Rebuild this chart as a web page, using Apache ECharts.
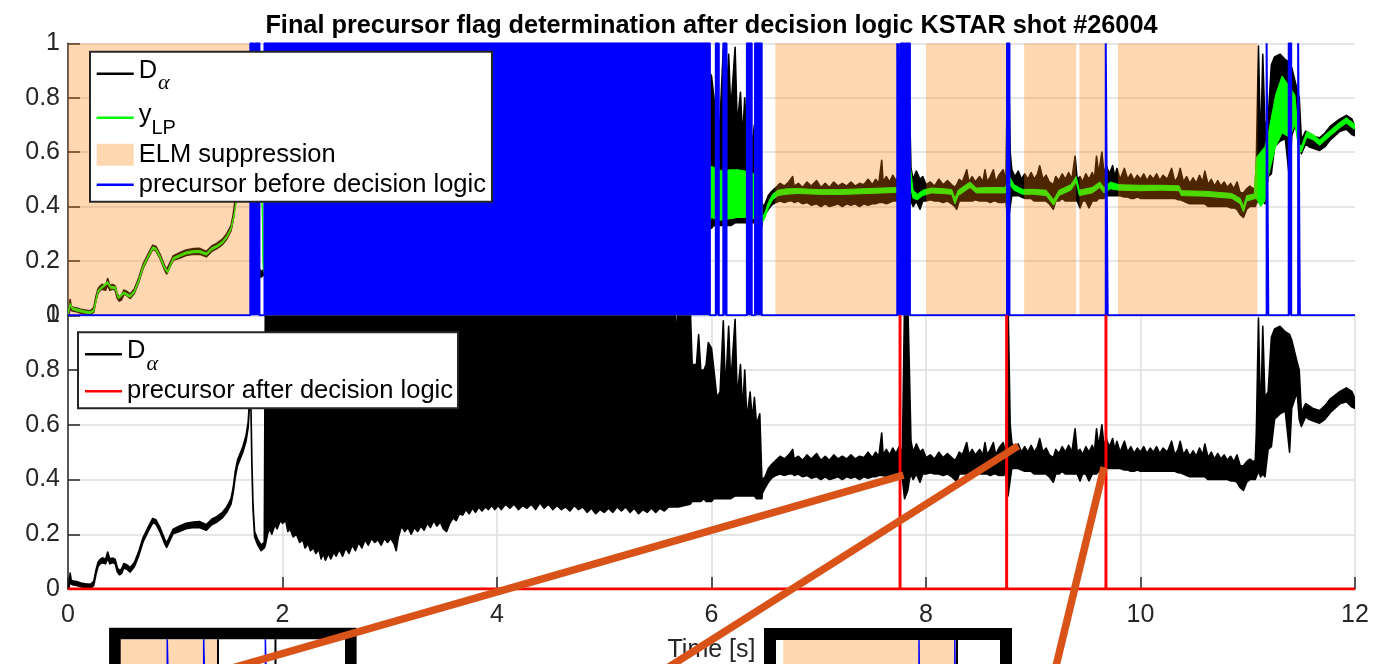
<!DOCTYPE html>
<html>
<head>
<meta charset="utf-8">
<script src="https://cdn.jsdelivr.net/npm/echarts@6.0.0/dist/echarts.min.js"></script>
<style>
html, body { margin: 0; padding: 0; background: #ffffff; }
#chart { width: 1383px; height: 664px; }
</style>
</head>
<body>
<div id="chart"></div>
<script>
// ------------------------------------------------------------------
// KSTAR shot #26004 : D-alpha signal, low-pass filtered signal,
// ELM-suppression windows and precursor flags (before / after logic)
// ------------------------------------------------------------------

const TITLE = 'Final precursor flag determination after decision logic KSTAR shot #26004';
const X_NAME = 'Time [s]';
const TIME_RANGE = [0, 12];
const TIME_STEP = 2;
const VALUE_RANGE = [0, 1];
const VALUE_STEP = 0.2;

// D-alpha, rows of [time s, lower envelope, upper envelope]
const dalphaRise = [
  [0, 0.000, 0.010], [0.01, 0.002, 0.018], [0.02, 0.040, 0.058], [0.03, 0.018, 0.032], [0.05, 0.015, 0.029],
  [0.08, 0.013, 0.027], [0.12, 0.008, 0.022], [0.16, 0.005, 0.019], [0.21, 0.003, 0.017], [0.24, 0.012, 0.028],
  [0.26, 0.052, 0.068], [0.28, 0.082, 0.098], [0.30, 0.092, 0.108], [0.32, 0.096, 0.114], [0.35, 0.092, 0.108],
  [0.37, 0.112, 0.135], [0.39, 0.092, 0.110], [0.42, 0.097, 0.113], [0.44, 0.092, 0.108], [0.46, 0.062, 0.078],
  [0.48, 0.052, 0.068], [0.50, 0.057, 0.073], [0.52, 0.077, 0.093], [0.55, 0.072, 0.088], [0.58, 0.062, 0.078],
  [0.62, 0.082, 0.098], [0.66, 0.122, 0.138], [0.70, 0.172, 0.188], [0.75, 0.212, 0.228], [0.79, 0.242, 0.258],
  [0.82, 0.237, 0.253], [0.86, 0.207, 0.223], [0.90, 0.167, 0.183], [0.92, 0.152, 0.168], [0.95, 0.177, 0.193],
  [0.98, 0.202, 0.218], [1.04, 0.210, 0.230], [1.10, 0.220, 0.240], [1.17, 0.225, 0.245], [1.23, 0.224, 0.246],
  [1.29, 0.215, 0.235], [1.34, 0.235, 0.255], [1.39, 0.245, 0.265], [1.44, 0.260, 0.280], [1.48, 0.280, 0.300],
  [1.52, 0.310, 0.330], [1.54, 0.350, 0.370], [1.56, 0.410, 0.430], [1.58, 0.450, 0.470], [1.60, 0.470, 0.490],
  [1.63, 0.500, 0.520], [1.66, 0.540, 0.560], [1.68, 0.590, 0.610], [1.695, 0.690, 0.710], [1.705, 0.670, 0.690],
  [1.715, 0.440, 0.460], [1.725, 0.290, 0.310], [1.74, 0.190, 0.210], [1.77, 0.160, 0.180], [1.80, 0.140, 0.160],
  [1.83, 0.150, 0.170]
];
const dalphaElmy = [
  [1.84, 0.16, 1.05], [1.86, 0.20, 1.05], [1.88, 0.22, 1.05], [1.90, 0.20, 1.05], [1.93, 0.235, 1.05],
  [1.95, 0.22, 1.05], [1.98, 0.25, 1.05], [2.00, 0.24, 1.05], [2.03, 0.25, 1.05], [2.05, 0.21, 1.05],
  [2.07, 0.22, 1.05], [2.10, 0.19, 1.05], [2.13, 0.20, 1.05], [2.16, 0.17, 1.05], [2.19, 0.18, 1.05],
  [2.21, 0.15, 1.05], [2.24, 0.165, 1.05], [2.26, 0.14, 1.05], [2.29, 0.15, 1.05], [2.31, 0.13, 1.05],
  [2.34, 0.145, 1.05], [2.36, 0.11, 1.05], [2.38, 0.13, 1.05], [2.40, 0.105, 1.05], [2.43, 0.13, 1.05],
  [2.45, 0.11, 1.05], [2.48, 0.135, 1.05], [2.50, 0.12, 1.05], [2.53, 0.145, 1.05], [2.56, 0.12, 1.05],
  [2.59, 0.15, 1.05], [2.62, 0.13, 1.05], [2.65, 0.16, 1.05], [2.68, 0.14, 1.05], [2.71, 0.17, 1.05],
  [2.74, 0.15, 1.05], [2.77, 0.18, 1.05], [2.80, 0.16, 1.05], [2.83, 0.185, 1.05], [2.86, 0.17, 1.05],
  [2.89, 0.18, 1.05], [2.92, 0.16, 1.05], [2.95, 0.185, 1.05], [2.98, 0.17, 1.05], [3.01, 0.185, 1.05],
  [3.04, 0.165, 1.05], [3.06, 0.14, 1.05], [3.08, 0.19, 1.05], [3.11, 0.23, 1.05], [3.14, 0.21, 1.05],
  [3.17, 0.225, 1.05], [3.20, 0.20, 1.05], [3.23, 0.225, 1.05], [3.26, 0.21, 1.05], [3.29, 0.23, 1.05],
  [3.32, 0.215, 1.05], [3.35, 0.24, 1.05], [3.38, 0.225, 1.05], [3.41, 0.25, 1.05], [3.44, 0.23, 1.05],
  [3.47, 0.245, 1.05], [3.50, 0.22, 1.05], [3.53, 0.21, 1.05], [3.56, 0.24, 1.05], [3.59, 0.26, 1.05],
  [3.62, 0.25, 1.05], [3.65, 0.275, 1.05], [3.68, 0.27, 1.05], [3.71, 0.29, 1.05], [3.74, 0.275, 1.05],
  [3.77, 0.295, 1.05], [3.80, 0.28, 1.05], [3.83, 0.30, 1.05], [3.86, 0.285, 1.05], [3.89, 0.30, 1.05],
  [3.92, 0.29, 1.05], [3.95, 0.305, 1.05], [3.98, 0.29, 1.05], [4.01, 0.305, 1.05], [4.04, 0.29, 1.05],
  [4.08, 0.31, 1.05], [4.12, 0.295, 1.05], [4.16, 0.31, 1.05], [4.20, 0.29, 1.05], [4.24, 0.305, 1.05],
  [4.28, 0.295, 1.05], [4.32, 0.31, 1.05], [4.36, 0.29, 1.05], [4.40, 0.315, 1.05], [4.44, 0.295, 1.05],
  [4.48, 0.31, 1.05], [4.52, 0.29, 1.05], [4.56, 0.305, 1.05], [4.60, 0.29, 1.05], [4.64, 0.30, 1.05],
  [4.68, 0.285, 1.05], [4.72, 0.305, 1.05], [4.76, 0.29, 1.05], [4.80, 0.30, 1.05], [4.84, 0.28, 1.05],
  [4.88, 0.295, 1.05], [4.92, 0.275, 1.05], [4.96, 0.29, 1.05], [5.00, 0.28, 1.05], [5.04, 0.295, 1.05],
  [5.08, 0.28, 1.05], [5.12, 0.30, 1.05], [5.16, 0.285, 1.05], [5.20, 0.30, 1.05], [5.24, 0.28, 1.05],
  [5.28, 0.295, 1.05], [5.32, 0.275, 1.05], [5.36, 0.29, 1.05], [5.40, 0.28, 1.05], [5.44, 0.295, 1.05],
  [5.48, 0.28, 1.05], [5.52, 0.295, 1.05], [5.56, 0.285, 1.05], [5.60, 0.30, 1.05], [5.66, 0.30, 1.05],
  [5.67, 0.30, 0.90], [5.69, 0.30, 1.05], [5.80, 0.31, 1.05], [5.82, 0.32, 0.82], [5.86, 0.32, 0.82],
  [5.88, 0.32, 0.93], [5.90, 0.32, 0.80], [5.93, 0.33, 0.80], [5.95, 0.32, 0.82], [5.97, 0.32, 0.90],
  [6.00, 0.32, 0.88], [6.02, 0.33, 0.81], [6.05, 0.33, 0.70], [6.08, 0.33, 0.72], [6.11, 0.33, 0.98],
  [6.13, 0.33, 0.72], [6.16, 0.33, 0.96], [6.18, 0.33, 0.75], [6.22, 0.34, 0.985], [6.24, 0.34, 0.70],
  [6.27, 0.34, 0.82], [6.29, 0.34, 0.65], [6.31, 0.34, 0.80], [6.33, 0.34, 0.62], [6.36, 0.34, 0.72],
  [6.38, 0.34, 0.62], [6.40, 0.34, 0.70], [6.42, 0.33, 0.60], [6.45, 0.33, 0.64], [6.47, 0.33, 0.40]
];
const dalphaHmode = [
  [6.475, 0.35, 0.40], [6.50, 0.37, 0.41], [6.53, 0.39, 0.44], [6.56, 0.405, 0.455], [6.60, 0.415, 0.47],
  [6.64, 0.42, 0.485], [6.68, 0.415, 0.475], [6.72, 0.42, 0.49], [6.757, 0.42, 0.51], [6.77, 0.415, 0.475],
  [6.81, 0.42, 0.485], [6.85, 0.41, 0.47], [6.89, 0.415, 0.49], [6.93, 0.405, 0.475], [6.98, 0.41, 0.495],
  [7.02, 0.40, 0.47], [7.06, 0.41, 0.485], [7.10, 0.40, 0.47], [7.14, 0.405, 0.49], [7.18, 0.41, 0.475],
  [7.22, 0.40, 0.485], [7.26, 0.41, 0.475], [7.30, 0.405, 0.49], [7.34, 0.41, 0.475], [7.38, 0.40, 0.485],
  [7.42, 0.41, 0.48], [7.46, 0.405, 0.50], [7.50, 0.41, 0.48], [7.53, 0.41, 0.50], [7.56, 0.415, 0.485],
  [7.587, 0.415, 0.57], [7.60, 0.415, 0.49], [7.63, 0.41, 0.51], [7.66, 0.415, 0.49], [7.69, 0.42, 0.515],
  [7.72, 0.42, 0.495], [7.75, 0.42, 0.52], [7.78, 0.40, 0.50], [7.80, 0.33, 1.05], [7.83, 0.36, 1.05],
  [7.845, 0.40, 0.80], [7.86, 0.42, 0.54], [7.88, 0.40, 0.50], [7.91, 0.42, 0.53], [7.944, 0.39, 0.50],
  [7.97, 0.42, 0.51], [8.00, 0.42, 0.48], [8.04, 0.425, 0.49], [8.08, 0.42, 0.475], [8.12, 0.42, 0.50],
  [8.16, 0.415, 0.48], [8.20, 0.42, 0.495], [8.24, 0.41, 0.48], [8.27, 0.40, 0.47], [8.286, 0.39, 0.48],
  [8.31, 0.42, 0.50], [8.34, 0.42, 0.49], [8.38, 0.42, 0.535], [8.40, 0.42, 0.49], [8.43, 0.42, 0.51],
  [8.46, 0.425, 0.49], [8.50, 0.42, 0.51], [8.53, 0.42, 0.49], [8.55, 0.42, 0.535], [8.57, 0.42, 0.49],
  [8.60, 0.415, 0.51], [8.628, 0.42, 0.535], [8.65, 0.42, 0.49], [8.68, 0.415, 0.515], [8.72, 0.415, 0.535],
  [8.745, 0.42, 0.49], [8.765, 0.34, 1.05], [8.785, 0.40, 0.60], [8.80, 0.44, 0.535], [8.83, 0.44, 0.51],
  [8.86, 0.44, 0.53], [8.89, 0.435, 0.50], [8.92, 0.43, 0.52], [8.95, 0.43, 0.50], [8.98, 0.43, 0.525],
  [9.01, 0.42, 0.50], [9.04, 0.42, 0.52], [9.06, 0.42, 0.55], [9.09, 0.42, 0.50], [9.12, 0.42, 0.515],
  [9.15, 0.41, 0.49], [9.187, 0.39, 0.48], [9.21, 0.42, 0.51], [9.24, 0.42, 0.495], [9.27, 0.43, 0.52],
  [9.30, 0.42, 0.50], [9.33, 0.42, 0.525], [9.36, 0.42, 0.50], [9.39, 0.42, 0.585], [9.41, 0.42, 0.50],
  [9.436, 0.395, 0.51], [9.46, 0.42, 0.49], [9.49, 0.42, 0.52], [9.52, 0.395, 0.50], [9.55, 0.42, 0.525],
  [9.57, 0.42, 0.50], [9.59, 0.42, 0.585], [9.61, 0.43, 0.52], [9.64, 0.43, 0.60], [9.66, 0.43, 0.52],
  [9.68, 0.44, 0.55], [9.71, 0.44, 0.52], [9.74, 0.44, 0.55], [9.76, 0.44, 0.51], [9.78, 0.44, 0.54],
  [9.81, 0.44, 0.50], [9.85, 0.435, 0.54], [9.88, 0.435, 0.50], [9.91, 0.43, 0.52], [9.94, 0.43, 0.495],
  [9.97, 0.435, 0.515], [10.00, 0.43, 0.50], [10.03, 0.43, 0.52], [10.06, 0.43, 0.495], [10.09, 0.43, 0.515],
  [10.12, 0.43, 0.50], [10.15, 0.43, 0.52], [10.18, 0.43, 0.495], [10.21, 0.43, 0.515], [10.25, 0.43, 0.50],
  [10.29, 0.43, 0.54], [10.32, 0.43, 0.49], [10.35, 0.425, 0.51], [10.37, 0.425, 0.54], [10.40, 0.42, 0.49],
  [10.43, 0.415, 0.51], [10.46, 0.41, 0.485], [10.49, 0.41, 0.505], [10.52, 0.41, 0.485], [10.55, 0.41, 0.515],
  [10.58, 0.41, 0.49], [10.60, 0.41, 0.53], [10.63, 0.40, 0.48], [10.66, 0.40, 0.50], [10.69, 0.40, 0.475],
  [10.72, 0.40, 0.495], [10.75, 0.40, 0.475], [10.78, 0.40, 0.49], [10.81, 0.40, 0.47], [10.84, 0.395, 0.485],
  [10.87, 0.395, 0.465], [10.90, 0.39, 0.49], [10.93, 0.37, 0.45], [10.96, 0.36, 0.45], [10.99, 0.39, 0.465],
  [11.02, 0.40, 0.475], [11.05, 0.40, 0.465], [11.07, 0.40, 0.47], [11.08, 0.41, 0.57], [11.10, 0.43, 0.99],
  [11.12, 0.41, 0.60], [11.14, 0.42, 0.96], [11.16, 0.41, 0.70], [11.19, 0.51, 0.72], [11.22, 0.52, 0.92],
  [11.25, 0.62, 0.95], [11.30, 0.64, 0.96], [11.35, 0.65, 0.94], [11.39, 0.50, 0.93], [11.41, 0.66, 0.91],
  [11.46, 0.72, 0.83], [11.48, 0.62, 0.80], [11.50, 0.594, 0.645], [11.54, 0.63, 0.677], [11.57, 0.62, 0.67],
  [11.61, 0.614, 0.659], [11.67, 0.606, 0.652], [11.72, 0.62, 0.67], [11.77, 0.645, 0.695], [11.86, 0.677, 0.722],
  [11.92, 0.684, 0.735], [11.97, 0.665, 0.722], [12.00, 0.66, 0.695]
];

// Low-pass filtered signal y_LP, rows of [time s, lower, upper]
const ylpRise = [
  [0, 0.000, 0.008], [0.02, 0.036, 0.044], [0.04, 0.021, 0.029], [0.08, 0.016, 0.024], [0.16, 0.008, 0.016],
  [0.21, 0.006, 0.014], [0.24, 0.014, 0.022], [0.28, 0.084, 0.092], [0.32, 0.100, 0.108], [0.37, 0.116, 0.124],
  [0.40, 0.098, 0.106], [0.44, 0.098, 0.106], [0.47, 0.061, 0.069], [0.52, 0.078, 0.086], [0.58, 0.066, 0.074],
  [0.62, 0.084, 0.092], [0.66, 0.124, 0.132], [0.70, 0.174, 0.182], [0.75, 0.214, 0.222], [0.79, 0.244, 0.252],
  [0.82, 0.239, 0.247], [0.86, 0.210, 0.218], [0.90, 0.170, 0.178], [0.93, 0.156, 0.164], [0.98, 0.204, 0.212],
  [1.04, 0.215, 0.223], [1.10, 0.225, 0.233], [1.17, 0.230, 0.238], [1.23, 0.230, 0.238], [1.29, 0.221, 0.229],
  [1.34, 0.240, 0.248], [1.39, 0.250, 0.258], [1.44, 0.264, 0.272], [1.48, 0.284, 0.292], [1.52, 0.314, 0.322],
  [1.55, 0.366, 0.374], [1.58, 0.446, 0.454], [1.62, 0.486, 0.494], [1.66, 0.536, 0.544], [1.70, 0.596, 0.604],
  [1.74, 0.500, 0.510], [1.78, 0.450, 0.460], [1.81, 0.420, 0.430], [1.82, 0.170, 0.180], [1.83, 0.155, 0.165]
];
const ylpElmy = [
  [1.86, 0.20, 0.40], [2.50, 0.22, 0.45], [3.50, 0.28, 0.50], [4.50, 0.31, 0.52], [5.50, 0.32, 0.53],
  [5.98, 0.34, 0.55], [6.00, 0.36, 0.547], [6.05, 0.35, 0.54], [6.10, 0.35, 0.53], [6.17, 0.355, 0.535],
  [6.25, 0.36, 0.535], [6.32, 0.36, 0.53], [6.40, 0.355, 0.52], [6.46, 0.35, 0.51]
];
const ylpHmode = [
  [6.475, 0.34, 0.36], [6.50, 0.36, 0.38], [6.53, 0.395, 0.415], [6.57, 0.425, 0.445], [6.62, 0.44, 0.46],
  [6.70, 0.445, 0.465], [6.80, 0.448, 0.466], [7.00, 0.445, 0.462], [7.20, 0.444, 0.462], [7.40, 0.447, 0.465],
  [7.60, 0.45, 0.468], [7.74, 0.452, 0.47], [7.78, 0.45, 0.50], [7.82, 0.47, 0.60], [7.85, 0.48, 0.56],
  [7.88, 0.43, 0.46], [7.92, 0.425, 0.445], [7.97, 0.44, 0.46], [8.05, 0.45, 0.468], [8.15, 0.448, 0.466],
  [8.24, 0.445, 0.462], [8.27, 0.41, 0.43], [8.30, 0.44, 0.46], [8.41, 0.47, 0.49], [8.47, 0.45, 0.468],
  [8.60, 0.45, 0.47], [8.74, 0.45, 0.47], [8.78, 0.48, 0.51], [8.82, 0.46, 0.48], [8.90, 0.445, 0.463],
  [9.00, 0.445, 0.463], [9.12, 0.44, 0.46], [9.19, 0.405, 0.425], [9.24, 0.44, 0.46], [9.35, 0.46, 0.48],
  [9.40, 0.49, 0.51], [9.43, 0.44, 0.46], [9.55, 0.45, 0.47], [9.62, 0.47, 0.49], [9.66, 0.45, 0.47],
  [9.72, 0.465, 0.49], [9.80, 0.46, 0.48], [10.00, 0.458, 0.478], [10.20, 0.46, 0.478], [10.36, 0.458, 0.476],
  [10.38, 0.44, 0.458], [10.60, 0.438, 0.456], [10.85, 0.43, 0.448], [10.93, 0.41, 0.43], [10.96, 0.38, 0.40],
  [10.99, 0.42, 0.44], [11.06, 0.428, 0.446], [11.08, 0.43, 0.58], [11.12, 0.40, 0.60], [11.16, 0.42, 0.62],
  [11.19, 0.51, 0.665], [11.26, 0.62, 0.81], [11.32, 0.67, 0.88], [11.39, 0.655, 0.84], [11.44, 0.70, 0.81],
  [11.48, 0.60, 0.63], [11.50, 0.60, 0.62], [11.55, 0.655, 0.675], [11.61, 0.645, 0.665], [11.67, 0.625, 0.645],
  [11.77, 0.66, 0.68], [11.86, 0.69, 0.71], [11.92, 0.706, 0.726], [11.99, 0.685, 0.705], [12.00, 0.685, 0.705]
];

// ELM suppression windows [start s, end s]
const elmWindows = [[0, 1.70], [6.595, 7.75], [8.0, 8.75], [8.915, 9.40], [9.43, 9.67], [9.79, 11.09]];

// precursor flag = 1 inside these intervals (before decision logic)
const precursorBefore = [
  [1.700, 1.730], [1.745, 1.785], [1.832, 5.985], [6.040, 6.068], [6.110, 6.140],
  [6.330, 6.375], [6.406, 6.468], [7.732, 7.734], [7.745, 7.747], [7.765, 7.800],
  [7.812, 7.850], [8.755, 8.778], [9.676, 9.694], [11.176, 11.192], [11.382, 11.405],
  [11.470, 11.486]
];
// precursor flag times that survive the decision logic
const precursorAfter = [7.758, 8.752, 9.678];

// magnified views below the time axis
const zoomAWindow = [7.715, 7.795];
const zoomAElm = [[7.70, 7.75]];
const zoomAFlags = [[7.7316, 7.7322], [7.7446, 7.7452], [7.7666, 7.7672]];
const zoomADalpha = [[7.7497, 0.45, 1.05], [7.7702, 0.40, 1.05]];
const zoomBWindow = [9.42, 9.7325];
const zoomBElm = [[9.43, 9.67]];
const zoomBFlags = [[9.6195, 9.6205], [9.6695, 9.6705]];
const zoomBDalpha = [[9.6725, 0.40, 1.05]];

// highlighted precursor events in the lower panel [time s, D-alpha]
const calloutTimes = [7.79, 8.86, 9.66];
const calloutValues = [0.416, 0.523, 0.445];

// ------------------------------------------------------------------
const FONT = '"Liberation Sans", Arial, Helvetica, sans-serif';
const AXIS_GREY = '#262626';
const GRID_GREY = '#dedede';
const C_BLACK = '#000000';
const C_GREEN = '#00ff00';
const C_ELM = 'rgba(255,127,0,0.3)';
const C_BLUE = '#0000ff';
const C_RED = '#ff0000';
const C_CALLOUT = '#d95319';

const dalphaRows = dalphaRise.concat(dalphaElmy, dalphaHmode);
const ylpRows = ylpRise.concat(ylpElmy, ylpHmode);

// closed band between lower and upper envelope
function bandRenderer(rows, strokeWidth) {
  return function (params, api) {
    const pts = [];
    for (let i = 0; i < rows.length; i++) pts.push(api.coord([rows[i][0], rows[i][2]]));
    for (let i = rows.length - 1; i >= 0; i--) pts.push(api.coord([rows[i][0], rows[i][1]]));
    const c = api.visual('color');
    return {
      type: 'polygon',
      shape: { points: pts },
      style: { fill: c, stroke: c, lineWidth: strokeWidth, lineJoin: 'round' }
    };
  };
}
// full-height shaded window
function windowRenderer(params, api) {
  const a = api.coord([api.value(0), VALUE_RANGE[1]]);
  const b = api.coord([api.value(1), VALUE_RANGE[0]]);
  return {
    type: 'rect',
    shape: { x: a[0], y: a[1], width: b[0] - a[0], height: b[1] - a[1] },
    style: { fill: api.visual('color') }
  };
}
// vertical trace segment [t, lo, hi]
function spikeRenderer(params, api) {
  const a = api.coord([api.value(0), api.value(1)]);
  const b = api.coord([api.value(0), api.value(2)]);
  return {
    type: 'line',
    shape: { x1: a[0], y1: a[1], x2: b[0], y2: b[1] },
    style: { stroke: api.visual('color'), lineWidth: 2 }
  };
}
// 0/1 flag signal from "on" intervals
function flagSteps(intervals, t0, t1) {
  const pts = [[t0, 0]];
  intervals.forEach(function (iv) {
    pts.push([iv[0], 0], [iv[0], 1], [iv[1], 1], [iv[1], 0]);
  });
  pts.push([t1, 0]);
  return pts;
}
// 0/1 flag signal made of single-sample pulses
function flagPulses(times, t0, t1) {
  const pts = [[t0, 0]];
  times.forEach(function (t) { pts.push([t, 0], [t, 1], [t, 0]); });
  pts.push([t1, 0]);
  return pts;
}

const chart = echarts.init(document.getElementById('chart'), null, { renderer: 'canvas' });

const PLOT_LEFT = 68, PLOT_WIDTH = 1287;
const TOP_Y = 43.3, MID_Y = 315.3, BOTTOM_Y = 589;
const ZOOM_A = { left: 120.7, top: 639.3, width: 224.3, height: 300, border: 11.6 };
const ZOOM_B = { left: 776, top: 640, width: 224, height: 300, border: 12 };

function valueAxis(gridIndex) {
  return {
    gridIndex: gridIndex, type: 'value', min: VALUE_RANGE[0], max: VALUE_RANGE[1], interval: VALUE_STEP,
    axisLine: { show: true, lineStyle: { color: AXIS_GREY, width: 1.5 } },
    axisTick: { show: true, inside: true, length: 12, lineStyle: { color: AXIS_GREY, width: 1.5 } },
    axisLabel: { show: true, margin: 8, fontSize: 25, color: AXIS_GREY, fontFamily: FONT },
    splitLine: { show: true, lineStyle: { color: GRID_GREY, width: 1.5 } }
  };
}
function hiddenAxis(gridIndex, range) {
  return { gridIndex: gridIndex, type: 'value', min: range[0], max: range[1], show: false, splitLine: { show: false } };
}

// legend text: every token gets an explicit box so rows have fixed heights;
// subscripts sit lower inside their box, like TeX subscripts
const SUB_ROW = 44, PLAIN_ROW = 30;
const richLegend = {
  m: { fontFamily: FONT, fontSize: 25.5, height: 30, lineHeight: SUB_ROW, padding: [4, 0, 10, 0],
       verticalAlign: 'top', color: '#000' },
  a: { fontFamily: '"Liberation Serif", "DejaVu Serif", serif', fontStyle: 'italic', fontSize: 22, height: 22,
       lineHeight: SUB_ROW, padding: [21, 0, 1, 1], verticalAlign: 'top', color: '#000' },
  s: { fontFamily: FONT, fontSize: 20, height: 20, lineHeight: SUB_ROW, padding: [23, 0, 1, 0],
       verticalAlign: 'top', color: '#000' },
  p: { fontFamily: FONT, fontSize: 25.5, height: PLAIN_ROW, lineHeight: PLAIN_ROW, verticalAlign: 'top', color: '#000' }
};
function legendText(name) {
  if (name === 'D_α') return '{m|D}{a|α}';
  if (name === 'y_LP') return '{m|y}{s|LP}';
  return '{p|' + name + '}';
}
const LINE_ICON = 'path://M0,0H37V2.4H0Z';
const legendBase = {
  orient: 'vertical', itemWidth: 37, itemHeight: 22, itemGap: 0,
  backgroundColor: '#ffffff', borderColor: AXIS_GREY, borderWidth: 2, borderRadius: 0,
  selectedMode: false, z: 10, formatter: legendText,
  textStyle: { fontFamily: FONT, fontSize: 25.5, color: '#000', rich: richLegend }
};

const option = {
  animation: false,
  backgroundColor: '#ffffff',
  title: {
    text: TITLE, left: PLOT_LEFT + PLOT_WIDTH / 2, textAlign: 'center', top: 14, padding: 0,
    textStyle: { fontFamily: FONT, fontSize: 25.3, fontWeight: 'bold', color: '#000' }
  },
  legend: [
    Object.assign({}, legendBase, {
      left: 90, top: 51.7, padding: [0, 6, 2, 6.7],
      data: [
        { name: 'D_α', icon: LINE_ICON, itemStyle: { color: C_BLACK } },
        { name: 'y_LP', icon: LINE_ICON, itemStyle: { color: C_GREEN } },
        { name: 'ELM suppression', icon: 'rect', itemStyle: { color: C_ELM } },
        { name: 'precursor before decision logic', icon: LINE_ICON, itemStyle: { color: C_BLUE } }
      ]
    }),
    Object.assign({}, legendBase, {
      left: 78, top: 332.3, padding: [0, 5, 2, 7],
      data: [
        { name: 'D_α', icon: LINE_ICON, itemStyle: { color: C_BLACK } },
        { name: 'precursor after decision logic', icon: LINE_ICON, itemStyle: { color: C_RED } }
      ]
    })
  ],
  grid: [
    { left: PLOT_LEFT, top: TOP_Y, width: PLOT_WIDTH, height: MID_Y - TOP_Y },
    { left: PLOT_LEFT, top: MID_Y, width: PLOT_WIDTH, height: BOTTOM_Y - MID_Y },
    { left: ZOOM_A.left, top: ZOOM_A.top, width: ZOOM_A.width, height: ZOOM_A.height },
    { left: ZOOM_B.left, top: ZOOM_B.top, width: ZOOM_B.width, height: ZOOM_B.height }
  ],
  xAxis: [
    { gridIndex: 0, type: 'value', min: TIME_RANGE[0], max: TIME_RANGE[1], interval: TIME_STEP,
      axisLine: { show: false }, axisTick: { show: false }, axisLabel: { show: false }, splitLine: { show: false } },
    { gridIndex: 1, type: 'value', min: TIME_RANGE[0], max: TIME_RANGE[1], interval: TIME_STEP,
      name: X_NAME, nameLocation: 'middle', nameGap: 49,
      nameTextStyle: { fontFamily: FONT, fontSize: 25, color: AXIS_GREY },
      axisLine: { show: true, lineStyle: { color: AXIS_GREY, width: 1.5 } },
      axisTick: { show: true, inside: true, length: 12, lineStyle: { color: AXIS_GREY, width: 1.5 } },
      axisLabel: { show: true, margin: 14, fontSize: 25, color: AXIS_GREY, fontFamily: FONT },
      splitLine: { show: true, lineStyle: { color: GRID_GREY, width: 1.5 } } },
    hiddenAxis(2, zoomAWindow),
    hiddenAxis(3, zoomBWindow)
  ],
  yAxis: [
    valueAxis(0),
    valueAxis(1),
    hiddenAxis(2, VALUE_RANGE),
    hiddenAxis(3, VALUE_RANGE)
  ],
  series: [
    // upper panel
    { type: 'custom', name: 'D_α', xAxisIndex: 0, yAxisIndex: 0, z: 2, clip: true, silent: true,
      itemStyle: { color: C_BLACK }, data: [[0, 0]], renderItem: bandRenderer(dalphaRows, 1.6) },
    { type: 'custom', name: 'y_LP', xAxisIndex: 0, yAxisIndex: 0, z: 3, clip: true, silent: true,
      itemStyle: { color: C_GREEN }, data: [[0, 0]], renderItem: bandRenderer(ylpRows, 1) },
    { type: 'custom', name: 'ELM suppression', xAxisIndex: 0, yAxisIndex: 0, z: 4, clip: true, silent: true,
      itemStyle: { color: C_ELM }, data: elmWindows, renderItem: windowRenderer },
    { type: 'line', name: 'precursor before decision logic', xAxisIndex: 0, yAxisIndex: 0, z: 5, clip: true,
      silent: true, symbol: 'none', itemStyle: { color: C_BLUE },
      lineStyle: { color: C_BLUE, width: 2 }, areaStyle: { color: C_BLUE, opacity: 1 },
      data: flagSteps(precursorBefore, TIME_RANGE[0], TIME_RANGE[1]) },
    // lower panel
    { type: 'custom', name: 'D_α', xAxisIndex: 1, yAxisIndex: 1, z: 2, clip: true, silent: true,
      itemStyle: { color: C_BLACK }, data: [[0, 0]], renderItem: bandRenderer(dalphaRows, 1.6) },
    { type: 'line', name: 'precursor after decision logic', xAxisIndex: 1, yAxisIndex: 1, z: 5, clip: true,
      silent: true, symbol: 'none', itemStyle: { color: C_RED }, lineStyle: { color: C_RED, width: 3 },
      data: flagPulses(precursorAfter, TIME_RANGE[0], TIME_RANGE[1]) },
    // magnified view A
    { type: 'custom', name: 'zoom A windows', xAxisIndex: 2, yAxisIndex: 2, z: 3, clip: true, silent: true,
      itemStyle: { color: C_ELM }, data: zoomAElm, renderItem: windowRenderer },
    { type: 'custom', name: 'zoom A trace', xAxisIndex: 2, yAxisIndex: 2, z: 4, clip: true, silent: true,
      itemStyle: { color: C_BLACK }, data: zoomADalpha, renderItem: spikeRenderer },
    { type: 'line', name: 'zoom A flags', xAxisIndex: 2, yAxisIndex: 2, z: 5, clip: true, silent: true,
      symbol: 'none', lineStyle: { color: C_BLUE, width: 1.5 }, areaStyle: { color: C_BLUE, opacity: 1 },
      data: flagSteps(zoomAFlags, zoomAWindow[0], zoomAWindow[1]) },
    // magnified view B
    { type: 'custom', name: 'zoom B windows', xAxisIndex: 3, yAxisIndex: 3, z: 3, clip: true, silent: true,
      itemStyle: { color: C_ELM }, data: zoomBElm, renderItem: windowRenderer },
    { type: 'custom', name: 'zoom B trace', xAxisIndex: 3, yAxisIndex: 3, z: 4, clip: true, silent: true,
      itemStyle: { color: C_BLACK }, data: zoomBDalpha, renderItem: spikeRenderer },
    { type: 'line', name: 'zoom B flags', xAxisIndex: 3, yAxisIndex: 3, z: 5, clip: true, silent: true,
      symbol: 'none', lineStyle: { color: C_BLUE, width: 1.5 }, areaStyle: { color: C_BLUE, opacity: 1 },
      data: flagSteps(zoomBFlags, zoomBWindow[0], zoomBWindow[1]) }
  ]
};
chart.setOption(option);

// frames of the magnified views and callout lines from the events to them
function frame(id, box) {
  const b = box.border;
  return {
    id: id, type: 'rect', z: 30, silent: true,
    shape: { x: box.left - b / 2, y: box.top - b / 2, width: box.width + b, height: box.height + b },
    style: { fill: 'none', stroke: '#000', lineWidth: b }
  };
}
// off-canvas ends of the callouts, toward the magnified views below
const calloutEnds = [[100, 706], [585, 720], [1043, 720]];
const graphics = [frame('frameA', ZOOM_A), frame('frameB', ZOOM_B)];
calloutTimes.forEach(function (t, i) {
  const p = chart.convertToPixel({ gridIndex: 1 }, [t, calloutValues[i]]);
  graphics.push({
    id: 'callout' + i, type: 'line', z: 40, silent: true,
    shape: { x1: p[0], y1: p[1], x2: calloutEnds[i][0], y2: calloutEnds[i][1] },
    style: { stroke: C_CALLOUT, lineWidth: 7.5, lineCap: 'butt' }
  });
});
chart.setOption({ graphic: graphics });
</script>
</body>
</html>
